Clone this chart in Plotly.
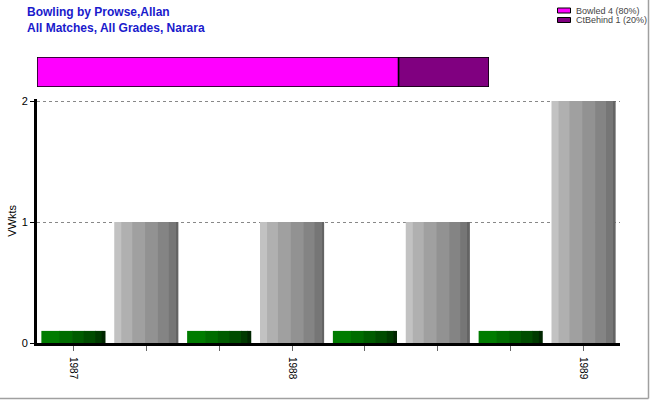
import plotly.graph_objects as go

# ---- data ----
tick_labels = ["1987", "", "", "1988", "", "", "", "1989"]
green_slots = [0, 2, 4, 6]
green_values = [0.1, 0.1, 0.1, 0.1]
gray_slots = [1, 3, 5, 7]
gray_values = [1, 1, 1, 2]

dismissal_names = ["Bowled 4 (80%)", "CtBehind 1 (20%)"]
dismissal_counts = [4, 1]
dismissal_colors = ["#ff00ff", "#800080"]

# ---- styling ----
W, H = 650, 400
L, R, T, B = 37, 30, 50, 57
pw, ph = W - L - R, H - T - B
BAR_W = 0.88
YMAX = 2.02

green_stripes = [(0.28, "#007c00"), (0.20, "#006c00"), (0.18, "#005c00"),
                 (0.18, "#004c00"), (0.10, "#003a00"), (0.06, "#002600")]
gray_stripes = [(0.11, "#c2c2c2"), (0.17, "#b0b0b0"), (0.20, "#a0a0a0"),
                (0.20, "#929292"), (0.17, "#848484"), (0.12, "#767676"),
                (0.03, "#646464")]

fig = go.Figure()


def add_striped(slots, values, stripes):
    off = -BAR_W / 2
    n = len(stripes)
    for i, (frac, col) in enumerate(stripes):
        w = frac * BAR_W
        extra = 0.01 if i < n - 1 else 0
        fig.add_trace(go.Bar(
            x=slots, y=values, width=w + extra, offset=off,
            marker=dict(color=col, line=dict(width=0)),
            showlegend=False, hoverinfo="skip", xaxis="x", yaxis="y"))
        off += w


add_striped(green_slots, green_values, green_stripes)
add_striped(gray_slots, gray_values, gray_stripes)

base = 0
for name, cnt, col in zip(dismissal_names, dismissal_counts, dismissal_colors):
    fig.add_trace(go.Bar(
        x=[cnt], y=[0], base=[base], orientation="h", width=1, name=name,
        marker=dict(color=col, line=dict(color="black", width=1.5)),
        xaxis="x2", yaxis="y2", showlegend=False))
    base += cnt


def py(px):  # pixel y -> paper
    return (H - B - px) / ph


def pxx(px):
    return (px - L) / pw


top_px = 343 - YMAX * 121

fig.update_layout(
    width=W, height=H,
    margin=dict(l=L, r=R, t=T, b=B, autoexpand=False),
    paper_bgcolor="white", plot_bgcolor="white",
    barmode="overlay",
    font=dict(family="Liberation Sans, Arial, sans-serif", size=11, color="black"),
    xaxis=dict(
        range=[-0.5, 7.5], tickvals=list(range(len(tick_labels))),
        ticktext=tick_labels, tickangle=90, tickfont=dict(size=10),
        ticks="outside", ticklen=5, tickcolor="#666", ticklabelstandoff=4,
        showgrid=False, zeroline=False,
        showline=True, linewidth=3, linecolor="black",
        domain=[0, 1], anchor="y"),
    yaxis=dict(
        range=[0, YMAX], tickvals=[0, 1, 2], ticks="outside", ticklen=4,
        tickcolor="black", showline=True, linewidth=3, linecolor="black",
        showgrid=True, gridcolor="#888888", griddash="3px,3px", gridwidth=1,
        zeroline=False, domain=[0, py(top_px)],
        title=dict(text="VWkts", font=dict(size=11), standoff=3)),
    xaxis2=dict(range=[0, 5], domain=[0, pxx(489)], anchor="y2",
                visible=False, fixedrange=True),
    yaxis2=dict(range=[-0.5, 0.5], domain=[py(87), py(57)], anchor="x2",
                visible=False),
    showlegend=False,
)

# manual compact legend built from the dismissal lists
for i, (name, col) in enumerate(zip(dismissal_names, dismissal_colors)):
    yc = 10.5 + 9.5 * i
    fig.add_shape(type="rect", xref="paper", yref="paper",
                  x0=pxx(557.5), x1=pxx(570.5), y0=py(yc + 2.5), y1=py(yc - 2.5),
                  fillcolor=col, line=dict(color="black", width=1))
    fig.add_annotation(text=name, xref="paper", yref="paper",
                       x=pxx(574), y=py(yc), xanchor="left", yanchor="middle",
                       showarrow=False, font=dict(size=9, color="#444"))

fig.add_annotation(
    text="<b>Bowling by Prowse,Allan<br>All Matches, All Grades, Narara</b>",
    xref="paper", yref="paper", x=pxx(25), y=py(3), xanchor="left",
    yanchor="top", align="left", showarrow=False,
    font=dict(size=12, color="#1a1acc"))

# outer frame (right & bottom)
fig.add_shape(type="line", xref="paper", yref="paper",
              x0=pxx(648.5), x1=pxx(648.5), y0=py(0), y1=py(398.5),
              line=dict(color="#a0a0a0", width=1.5))
fig.add_shape(type="line", xref="paper", yref="paper",
              x0=pxx(0), x1=pxx(648.5), y0=py(398.5), y1=py(398.5),
              line=dict(color="#a0a0a0", width=1.5))

fig.write_html(
    "out.html",
    config={"displayModeBar": False},
    post_script=("document.documentElement.style.overflow='hidden';"
                 "document.body.style.overflow='hidden';"
                 "document.body.style.margin='0';"
                 "document.body.style.padding='0';"))
